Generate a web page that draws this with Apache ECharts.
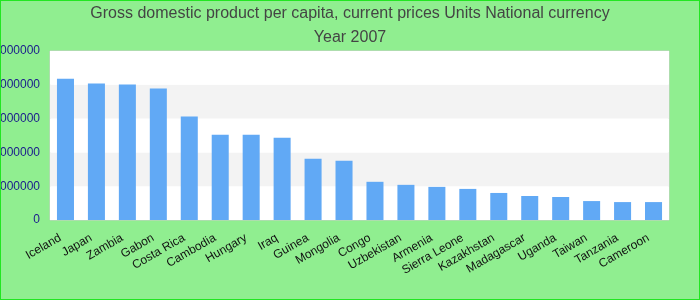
<!DOCTYPE html>
<html><head><meta charset="utf-8">
<script src="https://cdn.jsdelivr.net/npm/echarts@6/dist/echarts.min.js"></script>
<style>
html,body{margin:0;padding:0;background:#90ee90;}
#c{width:700px;height:300px;box-sizing:border-box;border:1px solid #22e622;}
</style></head><body>
<div id="c"></div>
<script>
const categories = ["Iceland","Japan","Zambia","Gabon","Costa Rica","Cambodia","Hungary","Iraq","Guinea","Mongolia","Congo","Uzbekistan","Armenia","Sierra Leone","Kazakhstan","Madagascar","Uganda","Taiwan","Tanzania","Cameroon"];
const values = [4180000,4040000,4010000,3890000,3060000,2520000,2520000,2430000,1810000,1750000,1130000,1040000,980000,920000,800000,710000,680000,560000,530000,530000];
const titleLines = ["Gross domestic product per capita, current prices Units National currency","Year 2007"];

const chart = echarts.init(document.getElementById('c'), null, {renderer:'canvas'});
chart.setOption({
  backgroundColor: '#90ee90',
  animation: false,
  title: {
    text: titleLines.join('\n'),
    left: 'center', top: 1, padding: 0,
    textStyle: {fontFamily: 'Liberation Sans, Arial, sans-serif', fontSize: 16, fontWeight: 'normal', color: '#444', lineHeight: 24}
  },
  grid: {left: 49, right: 30, top: 50, bottom: 79, show: true, backgroundColor: '#fff', borderColor: '#ccc', borderWidth: 1, containLabel: false, outerBoundsMode: 'none'},
  xAxis: {
    type: 'category', data: categories,
    axisLine: {show: false}, axisTick: {show: false},
    axisLabel: {rotate: 30, interval: 0, margin: 14, padding: [0, 6, 0, 0], fontSize: 12, color: '#111', fontFamily: 'Liberation Sans, Arial, sans-serif'}
  },
  yAxis: {
    type: 'value', min: 0, max: 5000000, interval: 1000000,
    axisLine: {show: false}, axisTick: {show: false},
    splitLine: {show: false},
    splitArea: {show: true, areaStyle: {color: ['#ffffff', '#f3f3f3']}},
    axisLabel: {margin: 10, fontSize: 12, color: '#1a1a8c', fontFamily: 'Liberation Sans, Arial, sans-serif', formatter: v => String(v)}
  },
  series: [{type: 'bar', data: values, barWidth: '55%', itemStyle: {color: '#61a9f5'}}]
});
</script></body></html>
